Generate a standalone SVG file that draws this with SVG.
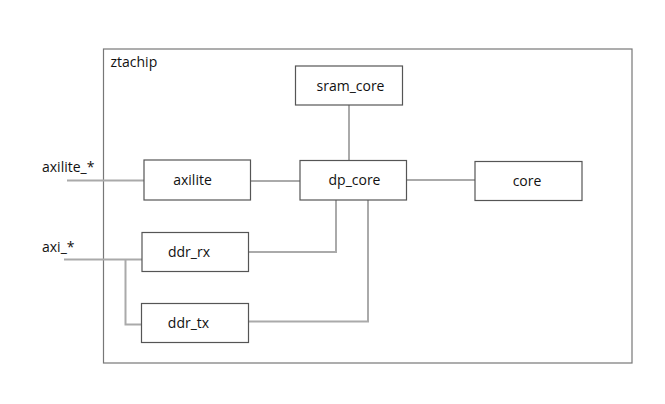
<svg xmlns="http://www.w3.org/2000/svg" width="665" height="404" viewBox="0 0 665 404">
<style>
text{font-family:"Open Sans","Noto Sans","DejaVu Sans",sans-serif;font-size:14px;fill:#111}
.box{fill:#fff;stroke:#555;stroke-width:1.2}
.c{text-anchor:middle}
.w{fill:none;stroke:#aaa;stroke-width:2}
</style>
<rect width="665" height="404" fill="#fff"/>
<g id="ztachip">
<rect x="103.5" y="49" width="528.5" height="314" fill="none" stroke="#777" stroke-width="1.2"/>
<text x="110.5" y="67">ztachip</text>
</g>
<g id="connectors">
<path class="w" d="M67 180.5H144"/>
<path class="w" d="M250.5 181H300"/>
<path class="w" d="M349 105V160"/>
<path class="w" d="M406.5 180H475"/>
<path class="w" d="M248.5 252H336V200"/>
<path class="w" d="M248.5 321.5H368V200"/>
<path class="w" d="M64 259.5H142"/>
<path class="w" d="M125.5 259.5V324.5H141"/>
</g>
<g id="axilite_port"><text x="42" y="172">axilite_*</text></g>
<g id="axi_port"><text x="42" y="252">axi_*</text></g>
<g id="axilite">
<rect class="box" x="144" y="160" width="106.5" height="40"/>
<text class="c" x="192.5" y="185">axilite</text>
</g>
<g id="sram_core">
<rect class="box" x="295.5" y="66" width="107" height="39"/>
<text class="c" x="350.5" y="90.5">sram_core</text>
</g>
<g id="dp_core">
<rect class="box" x="300" y="160.5" width="106.5" height="39.5"/>
<text class="c" x="354.5" y="185">dp_core</text>
</g>
<g id="core">
<rect class="box" x="475" y="161.5" width="107" height="39"/>
<text class="c" x="527" y="185.5">core</text>
</g>
<g id="ddr_rx">
<rect class="box" x="142" y="232.5" width="106.5" height="39"/>
<text class="c" x="189" y="256.5">ddr_rx</text>
</g>
<g id="ddr_tx">
<rect class="box" x="141.5" y="303.5" width="107" height="39"/>
<text class="c" x="188.5" y="327.5">ddr_tx</text>
</g>
</svg>
